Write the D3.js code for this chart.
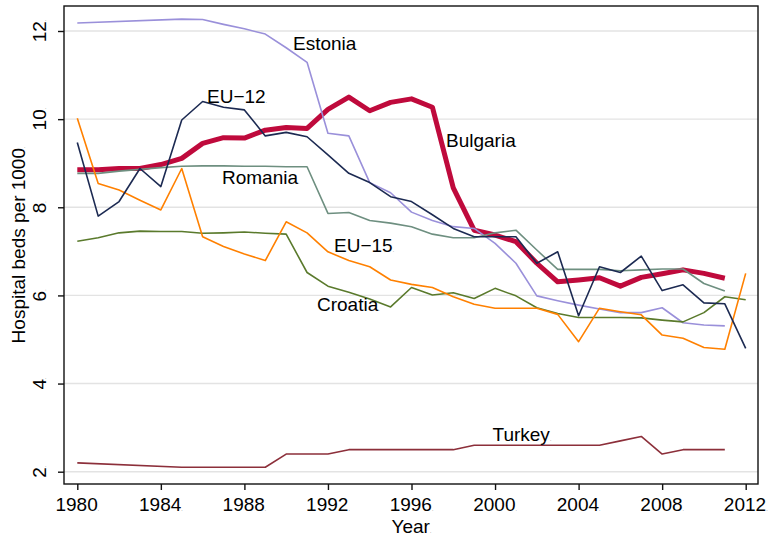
<!DOCTYPE html>
<html>
<head>
<meta charset="utf-8">
<script src="https://cdn.jsdelivr.net/npm/d3@7"></script>
<style>
  body { margin: 0; background: #fff; }
  text { font-family: "Liberation Sans", Arial, Helvetica, sans-serif; }
</style>
</head>
<body>
<svg id="chart" width="770" height="538"></svg>
<script>
// years 1980..2012, null = no value
const years = d3.range(1980, 2013);

const bulgaria = [8.85, 8.85, 8.88, 8.88, 8.97, 9.11, 9.45, 9.58, 9.57, 9.75, 9.81, 9.79, 10.22, 10.50, 10.19, 10.38, 10.46, 10.27, 8.44, 7.48, 7.37, 7.22, 6.73, 6.31, 6.35, 6.40, 6.21, 6.41, 6.49, 6.58, 6.50, 6.39, null];
const estonia = [12.18, null, null, null, null, 12.27, 12.26, 12.15, 12.05, 11.93, 11.62, 11.29, 9.68, 9.62, 8.56, 8.33, 7.89, 7.70, 7.56, 7.52, 7.18, 6.73, 5.99, 5.88, 5.78, 5.69, 5.61, 5.61, 5.72, 5.38, 5.33, 5.31, null];
const romania = [8.77, 8.77, 8.82, 8.86, 8.90, 8.93, 8.94, 8.94, 8.93, 8.93, 8.92, 8.92, 7.86, 7.88, 7.70, 7.64, 7.56, 7.39, 7.31, 7.31, 7.42, 7.48, 7.03, 6.59, 6.59, 6.59, 6.56, 6.58, 6.60, 6.60, 6.27, 6.10, null];
const croatia = [7.23, 7.31, 7.42, 7.46, 7.45, 7.45, 7.41, 7.42, 7.44, 7.41, 7.39, 6.52, 6.21, 6.07, 5.92, 5.74, 6.18, 6.01, 6.06, 5.93, 6.16, 5.99, 5.72, 5.59, 5.50, 5.50, 5.50, 5.49, 5.44, 5.40, 5.61, 5.97, 5.90];
const turkey = [2.2, null, null, null, null, 2.1, 2.1, 2.1, 2.1, 2.1, 2.4, 2.4, 2.4, 2.5, 2.5, 2.5, 2.5, 2.5, 2.5, 2.6, 2.6, 2.6, 2.6, 2.6, 2.6, 2.6, 2.7, 2.8, 2.4, 2.5, 2.5, 2.5, null];
const eu15 = [10.02, 8.54, 8.39, 8.16, 7.94, 8.88, 7.33, 7.11, 6.94, 6.79, 7.67, 7.42, 6.99, 6.79, 6.65, 6.35, 6.25, 6.18, 5.97, 5.80, 5.71, 5.71, 5.71, 5.57, 4.95, 5.71, 5.63, 5.56, 5.10, 5.03, 4.82, 4.78, 6.50];
const eu12 = [9.47, 7.80, 8.13, 8.88, 8.47, 9.98, 10.40, 10.27, 10.21, 9.62, 9.70, 9.60, 9.19, 8.77, 8.56, 8.24, 8.13, 7.83, 7.52, 7.33, 7.33, 7.33, 6.73, 6.99, 5.54, 6.65, 6.52, 6.89, 6.11, 6.24, 5.83, 5.81, 4.80];

const yTicks = [2, 4, 6, 8, 10, 12];
const xTicks = [1980, 1984, 1988, 1992, 1996, 2000, 2004, 2008, 2012];

const series = [
  { name: "Bulgaria", values: bulgaria, color: "#bf0a3c", width: 5, label: [446, 147] },
  { name: "Estonia", values: estonia, color: "#9a90da", width: 1.6, label: [293, 50] },
  { name: "Romania", values: romania, color: "#6e8f80", width: 1.6, label: [222, 183.5] },
  { name: "Croatia", values: croatia, color: "#5a7a2c", width: 1.6, label: [317, 310.5] },
  { name: "Turkey", values: turkey, color: "#8c2f3a", width: 1.6, label: [492.5, 440.5] },
  { name: "EU\u221215", values: eu15, color: "#ff8000", width: 1.6, label: [334, 251.5] },
  { name: "EU\u221212", values: eu12, color: "#1c2a52", width: 1.6, label: [207, 102.5] }
];

const svg = d3.select("#chart");
const plotL = 64, plotR = 758, plotT = 6, plotB = 484;

const x = d3.scaleLinear().domain([1980, 2012]).range([77.3, 745.7]);
const y = d3.scaleLinear().domain([2, 12]).range([471.7, 31]);

// grid
svg.append("g")
  .selectAll("line")
  .data(yTicks)
  .join("line")
  .attr("x1", plotL).attr("x2", plotR)
  .attr("y1", d => y(d)).attr("y2", d => y(d))
  .attr("stroke", "#e3e3e3")
  .attr("stroke-width", 1.4);

// lines
const line = d3.line()
  .x(d => x(d.year))
  .y(d => y(d.v));

series.forEach(s => {
  const pts = years.map((yr, i) => ({ year: yr, v: s.values[i] })).filter(d => d.v != null);
  svg.append("path")
    .datum(pts)
    .attr("fill", "none")
    .attr("stroke", s.color)
    .attr("stroke-width", s.width)
    .attr("stroke-linejoin", "round")
    .attr("d", line);
});

// frame
svg.append("rect")
  .attr("x", plotL).attr("y", plotT)
  .attr("width", plotR - plotL).attr("height", plotB - plotT)
  .attr("fill", "none")
  .attr("stroke", "#111")
  .attr("stroke-width", 1.4);

// axes
const yAxis = svg.append("g")
  .attr("transform", `translate(${plotL},0)`)
  .call(d3.axisLeft(y).tickValues(yTicks).tickSize(6).tickFormat(""));
yAxis.select(".domain").remove();
yAxis.selectAll(".tick line").attr("stroke", "#111").attr("stroke-width", 1.4);

const xAxis = svg.append("g")
  .attr("transform", `translate(0,${plotB})`)
  .call(d3.axisBottom(x).tickValues(xTicks).tickSize(6).tickFormat(""));
xAxis.select(".domain").remove();
xAxis.selectAll(".tick line").attr("stroke", "#111").attr("stroke-width", 1.4);

function dotted(sel, str) {
  sel.text(str);
  sel.append("tspan").attr("font-size", 5).attr("fill", "#666").text(".");
}

// y tick labels (rotated)
svg.append("g")
  .selectAll("text")
  .data(yTicks)
  .join("text")
  .attr("transform", d => `translate(46,${y(d)}) rotate(-90)`)
  .attr("text-anchor", "middle")
  .attr("font-size", 19)
  .each(function (d) { dotted(d3.select(this), String(d)); });

// x tick labels
svg.append("g")
  .selectAll("text")
  .data(xTicks)
  .join("text")
  .attr("x", d => x(d))
  .attr("y", 511)
  .attr("text-anchor", "middle")
  .attr("font-size", 19)
  .each(function (d) { dotted(d3.select(this), String(d)); });

// axis titles
svg.append("text")
  .attr("transform", `translate(25,${(plotT + plotB) / 2}) rotate(-90)`)
  .attr("text-anchor", "middle")
  .attr("font-size", 19)
  .call(dotted, "Hospital beds per 1000");

svg.append("text")
  .attr("x", 391.5)
  .attr("y", 532.5)
  .attr("font-size", 19)
  .call(dotted, "Year");

// series labels
series.forEach(s => {
  svg.append("text")
    .attr("x", s.label[0])
    .attr("y", s.label[1])
    .attr("font-size", 19)
    .attr("fill", "#000")
    .call(dotted, s.name);
});
</script>
</body>
</html>
